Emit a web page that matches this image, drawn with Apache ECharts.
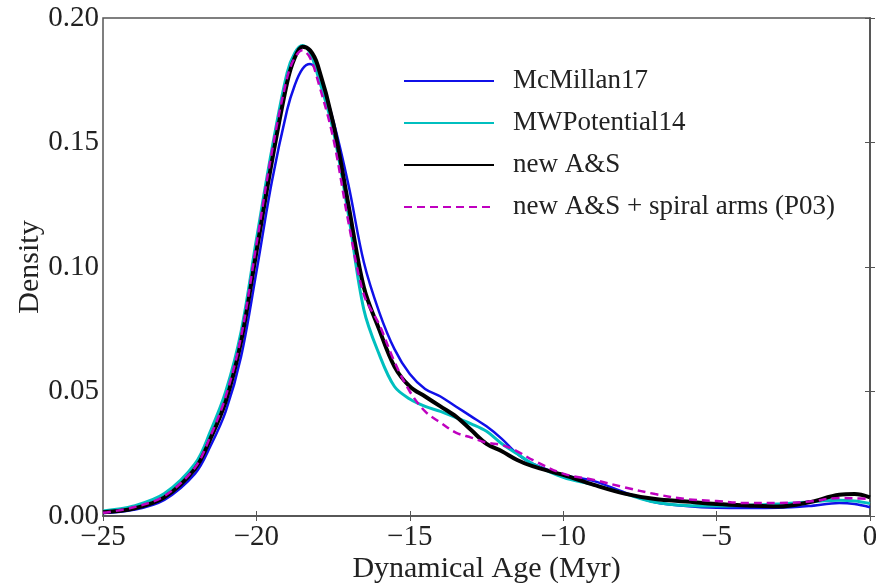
<!DOCTYPE html>
<html>
<head>
<meta charset="utf-8">
<script src="https://cdn.jsdelivr.net/npm/echarts@6/dist/echarts.min.js"></script>
<style>
  html, body { margin: 0; padding: 0; background: #fff; }
  #chart { width: 876px; height: 583px; }
</style>
</head>
<body>
<div id="chart"></div>
<script>
// dynamical age grid (Myr)
var ages = [-25, -24, -23, -22, -21.5, -21, -20.5, -20, -19.5, -19, -18.75, -18.5, -18.25, -18,
  -17.5, -17, -16.5, -16, -15.5, -15, -14.5, -14, -13.5, -13, -12.5, -12, -11.5, -11,
  -10, -9, -8, -7, -6, -5, -4, -3, -2, -1, -0.5, 0];

var mcmillan17 = [0.0012, 0.0025, 0.0065, 0.017, 0.028, 0.042, 0.064, 0.098, 0.134, 0.163, 0.173, 0.1795, 0.1815, 0.1785,
  0.159, 0.133, 0.102, 0.082, 0.067, 0.057, 0.051, 0.048, 0.044, 0.040, 0.036, 0.031, 0.025, 0.021,
  0.0165, 0.014, 0.0095, 0.0055, 0.004, 0.0033, 0.0032, 0.0033, 0.004, 0.0052, 0.0048, 0.0035];

var mwpotential14 = [0.002, 0.004, 0.009, 0.021, 0.034, 0.050, 0.074, 0.111, 0.147, 0.178, 0.186, 0.189, 0.186, 0.177,
  0.155, 0.121, 0.083, 0.065, 0.052, 0.047, 0.044, 0.042, 0.0395, 0.037, 0.034, 0.029, 0.025, 0.021,
  0.0155, 0.0125, 0.009, 0.0055, 0.0042, 0.004, 0.0043, 0.0048, 0.0056, 0.0063, 0.006, 0.005];

var newAS = [0.0015, 0.003, 0.0075, 0.019, 0.031, 0.046, 0.070, 0.106, 0.142, 0.174, 0.184, 0.1885, 0.187, 0.181,
  0.158, 0.125, 0.092, 0.075, 0.060, 0.052, 0.048, 0.044, 0.040, 0.0345, 0.029, 0.026, 0.0225, 0.020,
  0.0165, 0.0125, 0.009, 0.0068, 0.0058, 0.0048, 0.0042, 0.0038, 0.0055, 0.0085, 0.0088, 0.0075];

var newASspiral = [0.0013, 0.0035, 0.008, 0.0195, 0.032, 0.048, 0.072, 0.109, 0.146, 0.176, 0.184, 0.187, 0.184, 0.175,
  0.152, 0.118, 0.089, 0.077, 0.062, 0.050, 0.042, 0.0375, 0.0335, 0.0315, 0.0295, 0.0285, 0.026, 0.0225,
  0.017, 0.0145, 0.0115, 0.0088, 0.0068, 0.006, 0.0052, 0.0052, 0.0058, 0.0072, 0.0071, 0.0068];

var xTicks = [-25, -20, -15, -10, -5, 0];
var yTicks = [0, 0.05, 0.10, 0.15, 0.20];

function pairs(ys) {
  return ages.map(function (a, i) { return [a, ys[i]]; });
}

var serif = '"Liberation Serif", "DejaVu Serif", serif';
var chart = echarts.init(document.getElementById('chart'));

var tickStyle = { show: true, inside: true, length: 5, lineStyle: { color: '#555', width: 1 } };

var option = {
  animation: false,
  backgroundColor: '#fff',
  textStyle: { fontFamily: serif },
  grid: {
    left: 103, right: 6, top: 18, bottom: 67,
    containLabel: false, outerBoundsMode: 'none',
    show: true, borderColor: '#555', borderWidth: 1.5, backgroundColor: 'transparent'
  },
  legend: {
    orient: 'vertical',
    left: 398,
    top: 61,
    itemWidth: 90,
    itemHeight: 14,
    itemGap: 12,
    itemStyle: { opacity: 0 },
    textStyle: { fontFamily: serif, fontSize: 27, color: '#222', lineHeight: 30, padding: [0, 0, 0, 14] },
    data: ['McMillan17', 'MWPotential14', 'new A&S', 'new A&S + spiral arms (P03)']
  },
  xAxis: [{
    type: 'value',
    min: xTicks[0],
    max: xTicks[xTicks.length - 1],
    interval: 5,
    name: 'Dynamical Age (Myr)',
    nameLocation: 'middle',
    nameGap: 38,
    nameMoveOverlap: false,
    nameTextStyle: { fontFamily: serif, fontSize: 30, color: '#222' },
    axisLine: { show: true, lineStyle: { color: '#555', width: 1.5 } },
    axisTick: tickStyle,
    splitLine: { show: false },
    axisLabel: {
      fontFamily: serif, fontSize: 29, color: '#222', margin: 7,
      formatter: function (v) { return (v < 0 ? '\u2212' : '') + Math.abs(v); }
    }
  }, {
    type: 'value', position: 'top',
    min: xTicks[0], max: xTicks[xTicks.length - 1], interval: 5,
    axisLine: { show: true, lineStyle: { color: '#555', width: 1.5 } },
    axisTick: tickStyle, axisLabel: { show: false }, splitLine: { show: false }
  }],
  yAxis: [{
    type: 'value',
    min: yTicks[0],
    max: yTicks[yTicks.length - 1],
    interval: 0.05,
    name: 'Density',
    nameLocation: 'middle',
    nameGap: 58,
    nameMoveOverlap: false,
    nameTextStyle: { fontFamily: serif, fontSize: 30, color: '#222' },
    axisLine: { show: true, lineStyle: { color: '#555', width: 1.5 } },
    axisTick: tickStyle,
    splitLine: { show: false },
    axisLabel: {
      fontFamily: serif, fontSize: 29, color: '#222', margin: 4,
      formatter: function (v) { return v.toFixed(2); }
    }
  }, {
    type: 'value', position: 'right',
    min: yTicks[0], max: yTicks[yTicks.length - 1], interval: 0.05,
    axisLine: { show: true, lineStyle: { color: '#555', width: 1.5 } },
    axisTick: tickStyle, axisLabel: { show: false }, splitLine: { show: false }
  }],
  series: [
    { name: 'McMillan17', type: 'line', data: pairs(mcmillan17), smooth: 0.35, symbol: 'none',
      lineStyle: { color: '#1010e8', width: 2.5 }, itemStyle: { color: '#1010e8' } },
    { name: 'MWPotential14', type: 'line', data: pairs(mwpotential14), smooth: 0.35, symbol: 'none',
      lineStyle: { color: '#00bfbf', width: 3 }, itemStyle: { color: '#00bfbf' } },
    { name: 'new A&S', type: 'line', data: pairs(newAS), smooth: 0.35, symbol: 'none',
      lineStyle: { color: '#000', width: 4 }, itemStyle: { color: '#000' } },
    { name: 'new A&S + spiral arms (P03)', type: 'line', data: pairs(newASspiral), smooth: 0.35, symbol: 'none',
      lineStyle: { color: '#bf00bf', width: 2.5, type: [8, 5] }, itemStyle: { color: '#bf00bf' } }
  ]
};

chart.setOption(option);
</script>
</body>
</html>
